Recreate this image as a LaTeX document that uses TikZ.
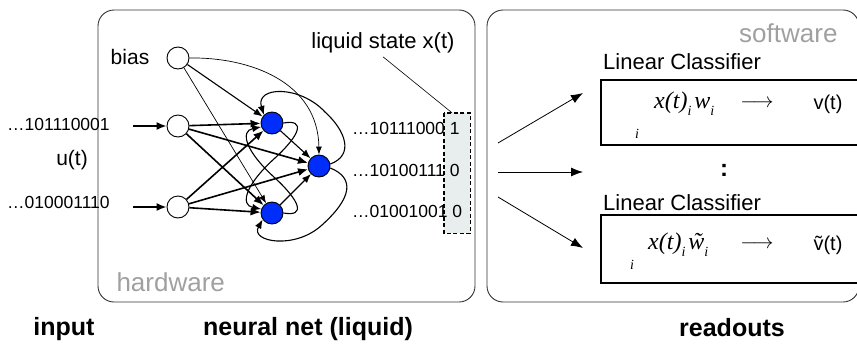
\documentclass[tikz,border=0pt]{standalone}
\usepackage{fontspec}
\setmainfont{Liberation Sans}
\newfontfamily\tms{Liberation Serif}
\usetikzlibrary{arrows.meta}
\newcommand\fs[1]{\fontsize{#1}{#1}\selectfont}
\newcommand\lowi{\raisebox{-0.3em}{\fs{14}\itshape i}}
\newcommand\tildew{{\ooalign{w\cr\hidewidth\kern2pt\char"02DC\hidewidth\cr}}}
\newcommand\tildev{{\ooalign{v\cr\hidewidth\char"02DC\hidewidth\cr}}}
\definecolor{nblue}{RGB}{0,45,250}
\definecolor{lgray}{RGB}{160,160,160}
\definecolor{lsfill}{RGB}{232,237,237}
\begin{document}
\begin{tikzpicture}[x=1pt,y=-1pt,
  inode/.style={circle,draw,line width=0.9pt,minimum size=22pt,inner sep=0pt,fill=white},
  bnode/.style={circle,draw,line width=0.9pt,minimum size=22pt,inner sep=0pt,fill=nblue},
  wthick/.style={-{Latex[length=10pt,width=8pt]},line width=1.6pt},
  wmed/.style={-{Latex[length=9pt,width=7pt]},line width=1.1pt},
  wthin/.style={-{Latex[length=8pt,width=6pt]},line width=0.7pt},
  rarr/.style={-{Latex[length=12pt,width=9pt]},line width=0.8pt},
  panel/.style={draw=black!80,line width=0.9pt,rounded corners=16pt},
  lbl/.style={font=\fs{21}},
  bits/.style={font=\fs{17.5},anchor=west,inner sep=0pt},
  big/.style={font=\fs{25}\bfseries,inner sep=0pt},
  gtxt/.style={font=\fs{26},text=lgray},
  clsf/.style={font=\fs{22},anchor=west,inner sep=0pt},
  cbox/.style={line width=1.3pt},
]
\useasboundingbox (0,0) rectangle (857,343);

% panels
\draw[panel] (98,10) rectangle (475,302);
\draw[panel] (487,10) rectangle (859,302);
\node[gtxt,anchor=west] (hw) at (113,282) {hardware};
\node[gtxt,anchor=east] (sw) at (841,33) {software};

% bottom labels
\node[big] (linput) at (64,329) {input};
\node[big] (lnet) at (308,329) {neural net (liquid)};
\node[big] (lread) at (732,328) {readouts};

% inputs
\node[bits] (in1txt) at (7,124) {…101110001};
\node[lbl] (ut) at (72,160) {u(t)};
\node[bits] (in2txt) at (7,202) {…010001110};
\node[lbl] (biaslbl) at (130,57) {bias};

% network nodes
\node[inode] (bias) at (178,58) {};
\node[inode] (i1) at (178,126) {};
\node[inode] (i2) at (178,207) {};
\node[bnode] (T) at (272,123) {};
\node[bnode] (M) at (319,166) {};
\node[bnode] (Bo) at (272,213) {};

\coordinate (a1) at (133,126);
\coordinate (a2) at (133,207);
\draw[wthick] (a1) -- (i1);
\draw[wthick] (a2) -- (i2);

% feedforward
\draw[wthick] (i1) -- (T);
\draw[wthick] (i1) -- (M);
\draw[wthick] (i1) -- (Bo);
\draw[wthick] (i2) -- (T);
\draw[wthick] (i2) -- (M);
\draw[wthick] (i2) -- (Bo);
\draw[wmed] (T) -- (M);
\draw[wmed] (Bo) -- (M);
\draw[wmed] (bias) -- (T);
\draw[wthin] (bias) -- (Bo);
\draw[wthin] (bias.east) .. controls (250,57) and (318,82) .. (M.north);

% recurrent loops
\draw[wmed] (T.east) .. controls (306,119) and (300,135) .. (275,158)
  .. controls (245,185) and (240,205) .. (Bo.160);
\draw[wmed] (Bo.east) .. controls (306,217) and (300,201) .. (275,178)
  .. controls (245,151) and (240,131) .. (T.200);
\draw[wmed] (M.10) .. controls (355,155) and (345,130) .. (325,112)
  .. controls (300,85) and (255,86) .. (T.135);
\draw[wmed] (M.-10) .. controls (355,178) and (352,198) .. (322,225)
  .. controls (295,250) and (250,242) .. (Bo.215);

% liquid state
\node[fill=lsfill,minimum width=26pt,minimum height=120pt,inner sep=0pt] (lsbox) at (457,173) {};
\node[bits] (o1) at (352,128) {…10111000 1};
\node[bits] (o2) at (352,170) {…10100111 0};
\node[bits] (o3) at (352,211) {…01001001 0};
\draw[dashed,line width=1.4pt,dash pattern=on 4pt off 2.5pt] (lsbox.north west) rectangle (lsbox.south east);
\node[font=\fs{22}] (lsl) at (383,43) {liquid state x(t)};
\draw[line width=0.6pt] (lsl.south) -- ([xshift=-5pt]lsbox.north);

% readout arrows
\coordinate (r1) at (498,143);
\coordinate (r2) at (498,172);
\coordinate (r3) at (498,197);
\coordinate (e1) at (583,93);
\coordinate (e2) at (583,172);
\coordinate (e3) at (583,248);
\draw[rarr] (r1) -- (e1);
\draw[rarr] (r2) -- (e2);
\draw[rarr] (r3) -- (e3);

% classifiers
\node[clsf] (c1) at (603,62) {Linear Classifier};
\node[clsf] (c2) at (603,203) {Linear Classifier};
\draw[cbox] (858,80) -- (601,80) -- (601,145) -- (858,145);
\draw[cbox] (858,215) -- (601,215) -- (601,283) -- (858,283);

\node[anchor=west,inner sep=0pt,font=\tms\fs{24}\itshape] (f1) at (654,104) {x(t)\lowi\kern3pt w\lowi};
\node[inner sep=0pt,font=\tms\fs{14}\itshape] (s1) at (637,134) {i};
\node[inner sep=0pt] (ar1) at (757,104) {\fs{21}$\longrightarrow$};
\node[inner sep=0pt,font=\fs{20}] (v1) at (828,104) {v(t)};

\node[anchor=west,inner sep=0pt,font=\tms\fs{24}\itshape] (f2) at (648,245) {x(t)\lowi\kern3pt \tildew\lowi};
\node[inner sep=0pt,font=\tms\fs{14}\itshape] (s2) at (632,265) {i};
\node[inner sep=0pt] (ar2) at (757,245) {\fs{21}$\longrightarrow$};
\node[inner sep=0pt,font=\fs{20}] (v2) at (828,245) {\tildev(t)};

\node[font=\fs{24}\bfseries] (colon) at (724,170) {:};
\end{tikzpicture}
\end{document}
